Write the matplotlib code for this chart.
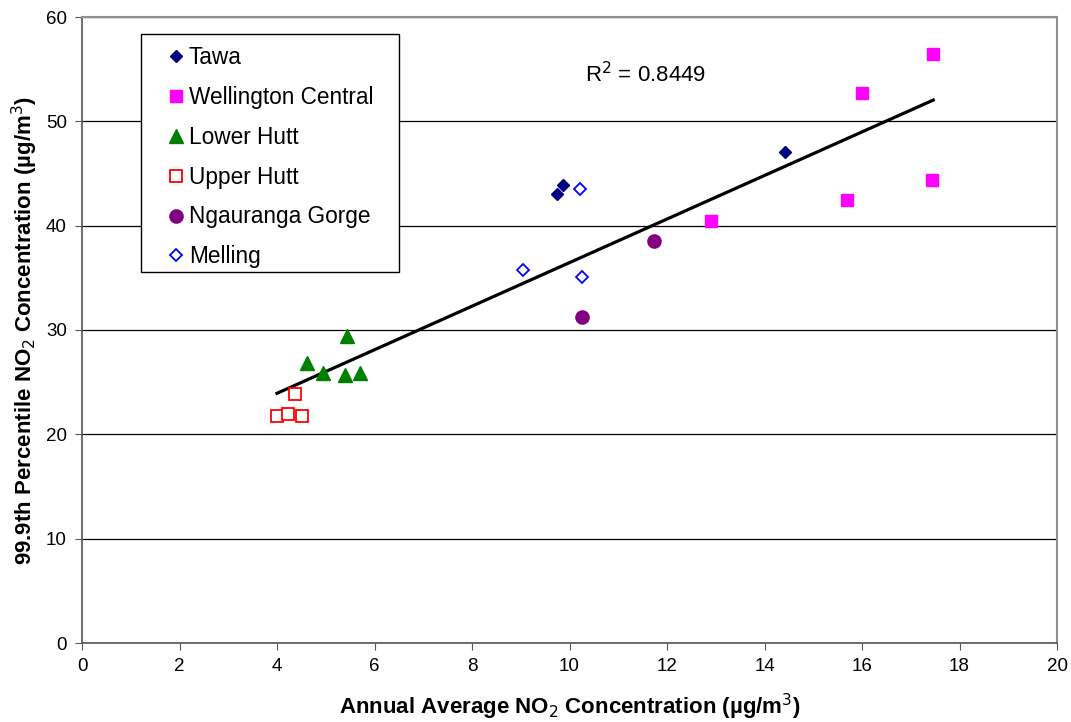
import matplotlib
matplotlib.use("Agg")
import matplotlib.pyplot as plt
from matplotlib.patches import Rectangle
import numpy as np

plt.rcParams['font.family'] = ['Liberation Sans', 'DejaVu Sans']

# Data (x = annual average NO2, y = 99.9th percentile NO2)
tawa_x = [9.75, 9.86, 14.43]
tawa_y = [43.05, 43.85, 47.05]
wellington_x = [12.9, 15.69, 16.0, 17.44, 17.46]
wellington_y = [40.45, 42.46, 52.69, 44.38, 56.46]
lower_x = [4.62, 4.95, 5.40, 5.43, 5.70]
lower_y = [26.8, 25.9, 25.7, 29.4, 25.9]
upper_x = [4.00, 4.23, 4.36, 4.52]
upper_y = [21.76, 21.92, 23.87, 21.76]
ngauranga_x = [10.25, 11.74]
ngauranga_y = [31.22, 38.53]
melling_x = [9.04, 10.22, 10.25]
melling_y = [35.75, 43.55, 35.08]

r2_text = "R$^{2}$ = 0.8449"

fig = plt.figure(figsize=(10.71, 7.22), dpi=100)
ax = fig.add_axes([82/1071, 1 - 643/722, (1057-82)/1071, (643-17)/722])

ax.plot(tawa_x, tawa_y, linestyle='none', marker='D', color='#000080', markersize=6.5, label='Tawa')
ax.plot(wellington_x, wellington_y, linestyle='none', marker='s', color='#FF00FF', markersize=9, label='Wellington Central')
ax.plot(lower_x, lower_y, linestyle='none', marker='^', color='#008000', markersize=10, label='Lower Hutt')
ax.plot(upper_x, upper_y, linestyle='none', marker='s', markerfacecolor='white', markeredgecolor='#FF0000',
        markeredgewidth=1.3, markersize=9, label='Upper Hutt')
ax.plot(ngauranga_x, ngauranga_y, linestyle='none', marker='o', color='#800080', markersize=9.5, label='Ngauranga Gorge')
ax.plot(melling_x, melling_y, linestyle='none', marker='D', markerfacecolor='white', markeredgecolor='#0000FF',
        markeredgewidth=1.3, markersize=6.5, label='Melling')

# Linear trendline over all points
all_x = np.array(tawa_x + wellington_x + lower_x + upper_x + ngauranga_x + melling_x)
all_y = np.array(tawa_y + wellington_y + lower_y + upper_y + ngauranga_y + melling_y)
m, c = np.polyfit(all_x, all_y, 1)
xx = np.array([all_x.min(), all_x.max()])
ax.plot(xx, m * xx + c, color='black', linewidth=2.3, zorder=1)

ax.text(11.55, 53.3, r2_text, fontsize=16, ha='center', va='bottom')

ax.set_xlim(0, 20)
ax.set_ylim(0, 60)
ax.set_xticks(np.arange(0, 21, 2))
ax.set_yticks(np.arange(0, 61, 10))
ax.yaxis.grid(True, color='#000000', linewidth=0.9)
ax.set_axisbelow(True)
ax.tick_params(axis='both', labelsize=13.5, direction='out', length=5, color='#555555', pad=6)

for s in ['top', 'right']:
    ax.spines[s].set_color('#909090')
    ax.spines[s].set_linewidth(1.5)
for s in ['left', 'bottom']:
    ax.spines[s].set_color('#555555')
    ax.spines[s].set_linewidth(1.2)

ax.set_xlabel('Annual Average NO$_2$ Concentration (µg/m$^3$)', fontsize=16, fontweight='bold', labelpad=12)
ax.set_ylabel('99.9th Percentile NO$_2$ Concentration (µg/m$^3$)', fontsize=16, fontweight='bold', labelpad=4)

# Legend frame drawn separately (axes fraction coordinates)
W, H = 975.0, 626.0
frame = Rectangle(((141-82)/W, (643-272)/H), (399-141)/W, (272-34)/H, transform=ax.transAxes,
                  facecolor='white', edgecolor='black', linewidth=1.0, zorder=4)
ax.add_patch(frame)
leg = ax.legend(loc='upper left', bbox_to_anchor=((168-82)/W, (643-46)/H), frameon=False,
                fontsize=16.3, handlelength=0.7, handletextpad=0.22, labelspacing=0.745, borderpad=0,
                borderaxespad=0, numpoints=1)
leg.set_zorder(5)

fig.savefig('out.png', dpi=100, facecolor='white')
